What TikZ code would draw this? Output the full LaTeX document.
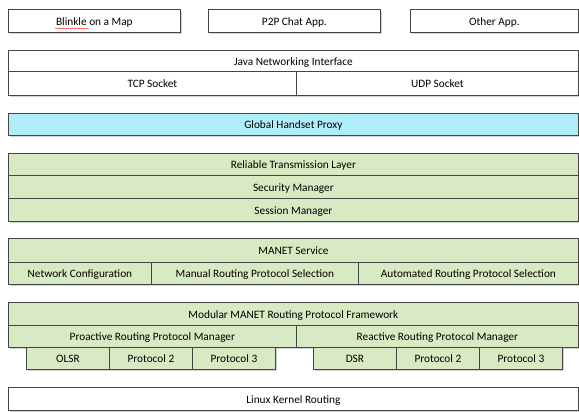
\documentclass[tikz,border=0pt]{standalone}
\usepackage{fontspec}
\setmainfont{Carlito}
\usetikzlibrary{shadows, decorations.pathmorphing}
\definecolor{layergreen}{HTML}{D7EAC3}
\definecolor{proxycyan}{HTML}{AFEEF8}
\definecolor{edgegray}{HTML}{454545}
\tikzset{cell/.style={draw=edgegray, line width=0.8pt, fill=white, anchor=north west, inner sep=0pt,
    text height=9pt, text depth=0pt,
    drop shadow={shadow xshift=1.6pt, shadow yshift=-1.6pt, opacity=0.35}},
  greencell/.style={cell, fill=layergreen},
  spell/.style={decoration={snake, amplitude=0.4pt, segment length=1.6pt}, decorate, red!80, line width=0.3pt}}

\begin{document}
\begin{tikzpicture}[x=1pt, y=-1pt, font=\fontsize{11.3}{13}\selectfont]
  \useasboundingbox (0,0) rectangle (579,412);
  % applications
  \node[cell, minimum width=172pt, minimum height=23pt] (blinkle) at (8,9) {Blinkle on a Map};
  \node[cell, minimum width=172pt, minimum height=23pt] (chat) at (208,9) {P2P Chat App.};
  \node[cell, minimum width=168pt, minimum height=23pt] (other) at (410,9) {Other App.};
  \draw[spell] (55,28.5) -- (89,28.5);
  % java networking
  \node[cell, minimum width=570pt, minimum height=21pt] (java) at (8,50) {Java Networking Interface};
  \node[cell, minimum width=288pt, minimum height=24pt] (tcp) at (8,71) {TCP Socket};
  \node[cell, minimum width=282pt, minimum height=24pt] (udp) at (296,71) {UDP Socket};
  % proxy
  \node[cell, fill=proxycyan, minimum width=570pt, minimum height=22pt] (proxy) at (8,113) {Global Handset Proxy};
  % transmission stack
  \node[greencell, minimum width=570pt, minimum height=22pt] (reliable) at (8,153) {Reliable Transmission Layer};
  \node[greencell, minimum width=570pt, minimum height=23pt] (security) at (8,175) {Security Manager};
  \node[greencell, minimum width=570pt, minimum height=23pt] (session) at (8,198) {Session Manager};
  % manet service
  \node[greencell, minimum width=570pt, minimum height=24pt] (manet) at (8,238) {MANET Service};
  \node[greencell, minimum width=143pt, minimum height=22pt] (netconf) at (8,262) {Network Configuration};
  \node[greencell, minimum width=207pt, minimum height=22pt] (manual) at (151,262) {Manual Routing Protocol Selection};
  \node[greencell, minimum width=220pt, minimum height=22pt] (auto) at (358,262) {Automated Routing Protocol Selection};
  % routing framework
  \node[greencell, minimum width=570pt, minimum height=23pt] (modular) at (8,302) {Modular MANET Routing Protocol Framework};
  \node[greencell, minimum width=288pt, minimum height=22pt] (proactive) at (8,325) {Proactive Routing Protocol Manager};
  \node[greencell, minimum width=282pt, minimum height=22pt] (reactive) at (296,325) {Reactive Routing Protocol Manager};
  \foreach \name/\lbl [count=\i from 0] in {olsr/OLSR, proa/Protocol 2, prob/Protocol 3} {
    \node[greencell, minimum width=83pt, minimum height=22pt] (\name) at (26+83*\i,347) {\lbl};
  }
  \foreach \name/\lbl [count=\i from 0] in {dsr/DSR, rea/Protocol 2, reb/Protocol 3} {
    \node[greencell, minimum width=83pt, minimum height=22pt] (\name) at (313+83*\i,347) {\lbl};
  }
  % kernel
  \node[cell, minimum width=570pt, minimum height=23pt] (kernel) at (8,387) {Linux Kernel Routing};
\end{tikzpicture}
\end{document}
